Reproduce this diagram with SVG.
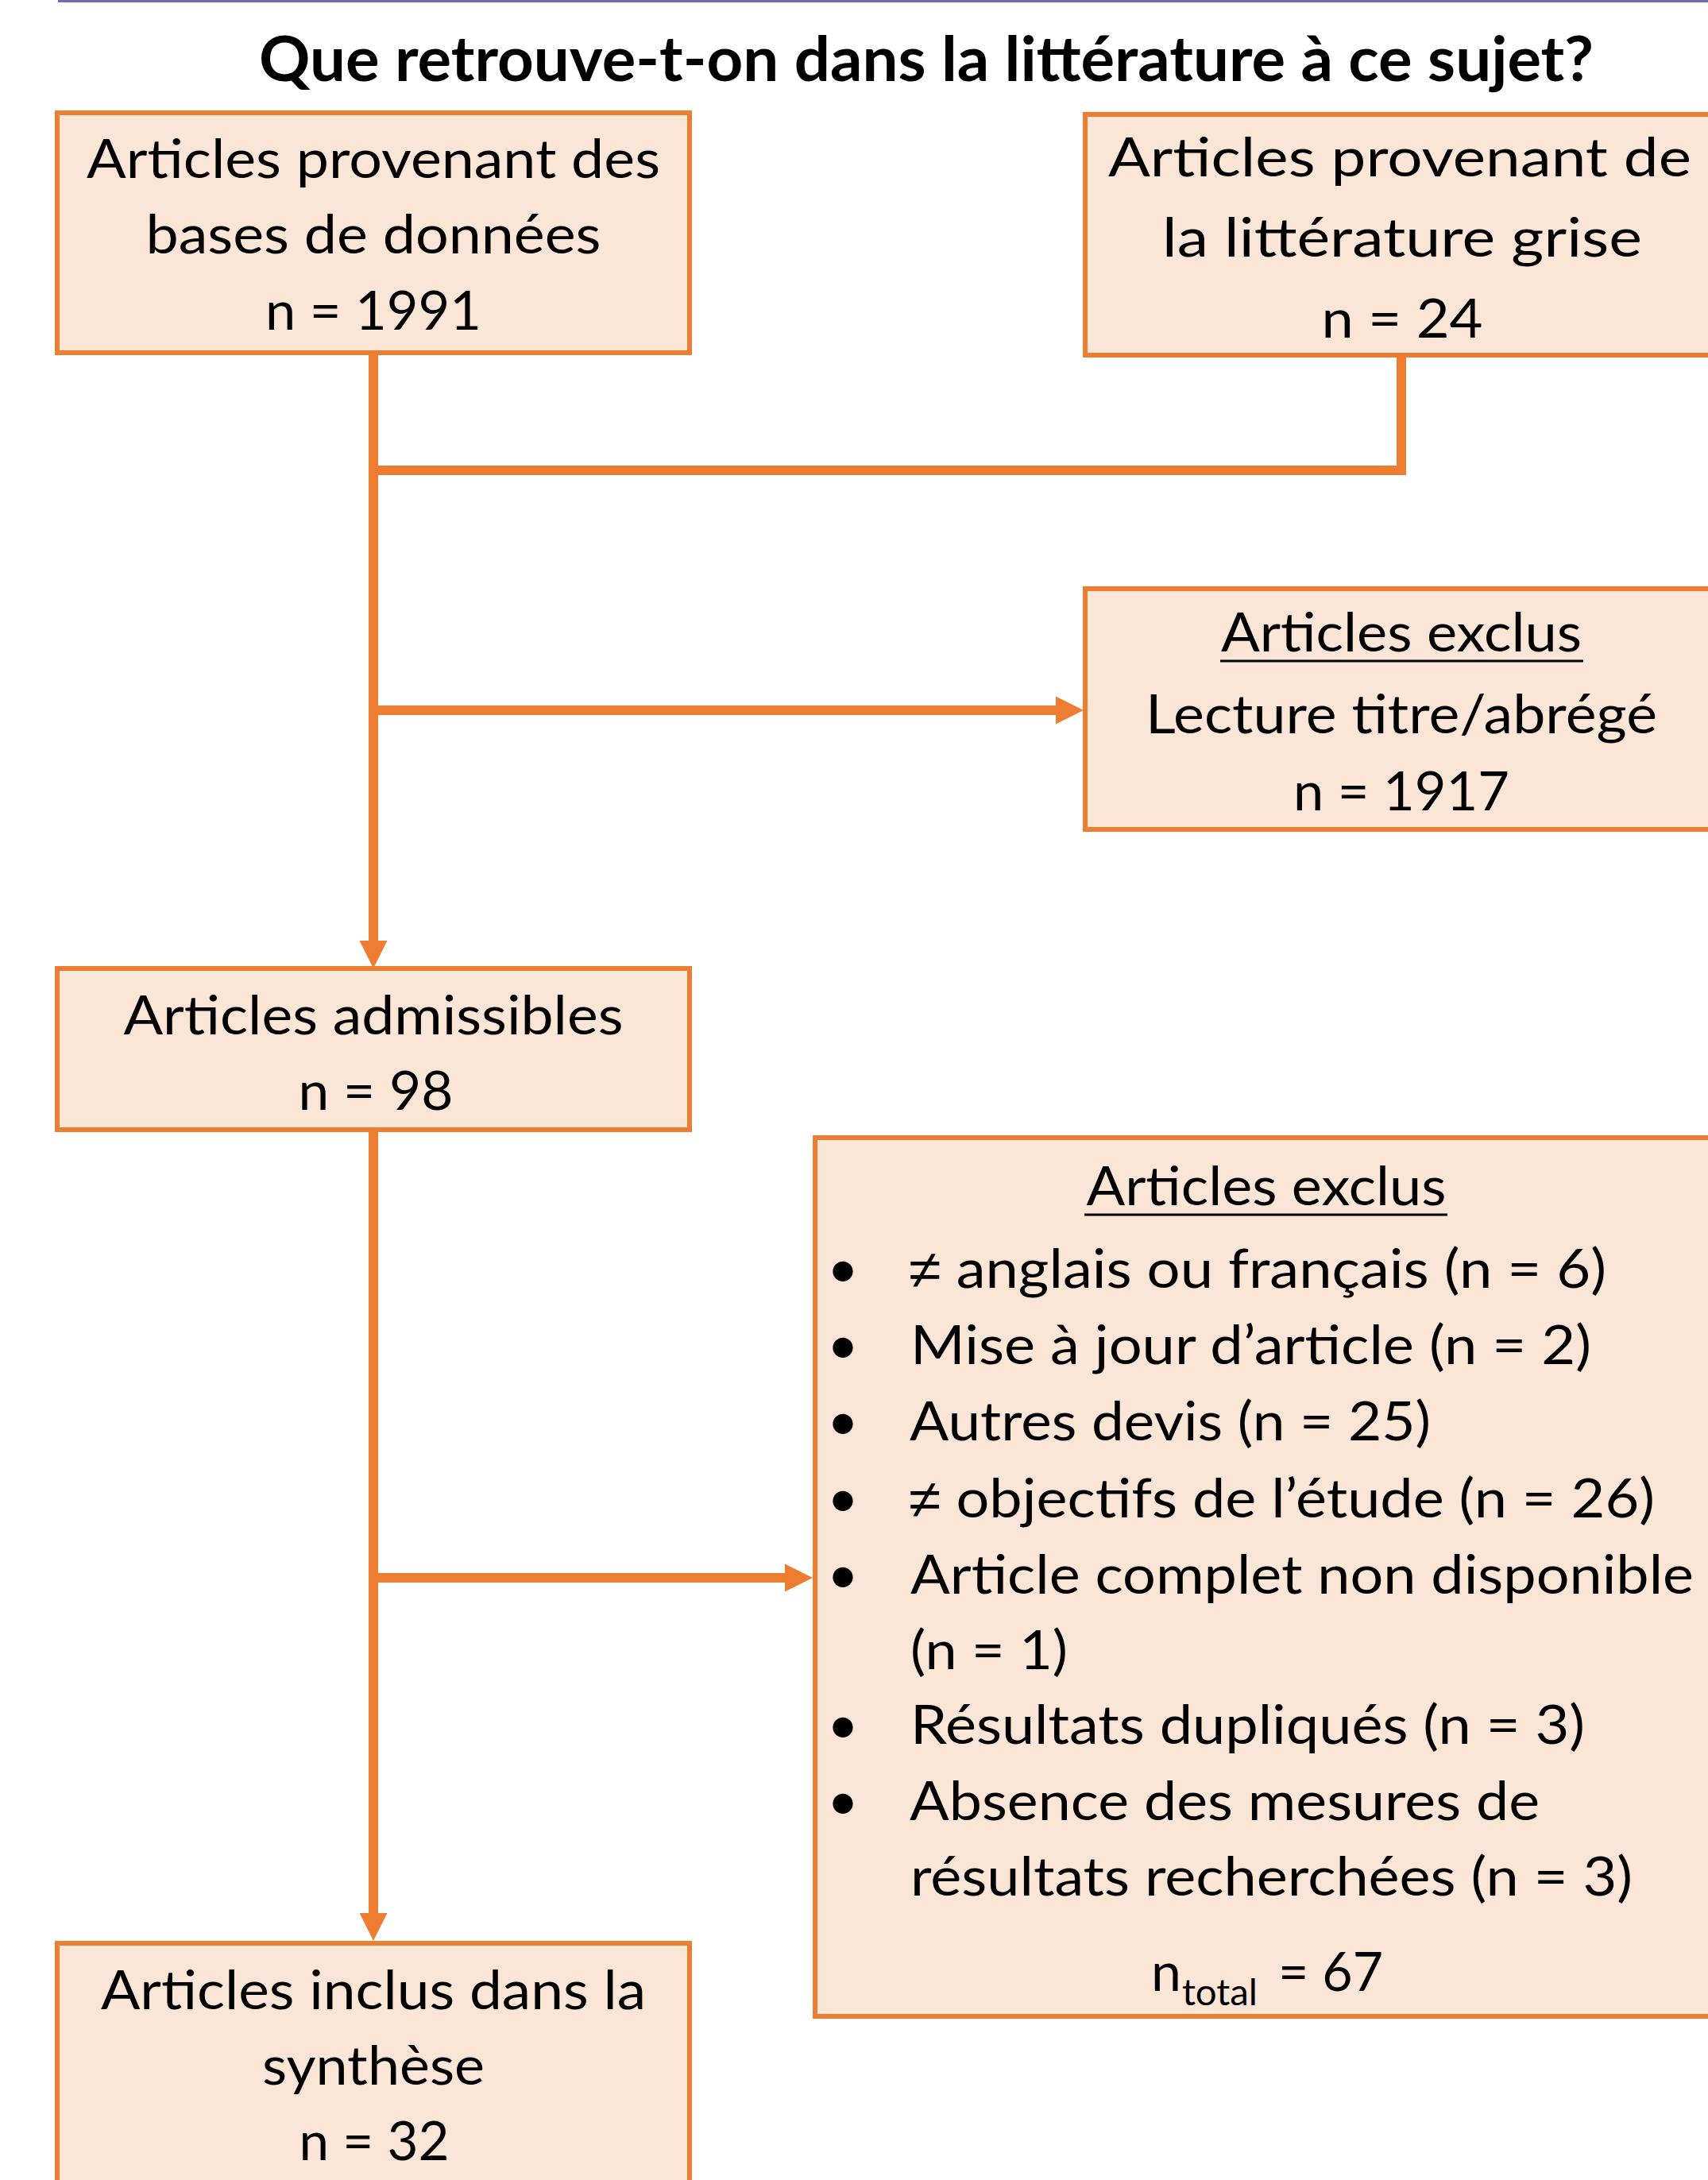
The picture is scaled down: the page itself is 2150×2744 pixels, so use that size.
<svg xmlns="http://www.w3.org/2000/svg" width="2150" height="2744" viewBox="0 0 2150 2744">
<style>
.box{fill:#fbe5d6;stroke:#ed7d31;stroke-width:6}
.t{font-family:Lato,"Open Sans","Liberation Sans",sans-serif;font-size:68px;fill:#000}
.c{text-anchor:middle}
.ne{font-family:"Liberation Sans","DejaVu Sans",sans-serif}
.title{font-family:Lato,"Open Sans","Liberation Sans",sans-serif;font-size:78px;font-weight:bold;fill:#000;text-anchor:middle}
.conn{fill:none;stroke:#ed7d31;stroke-width:12}
.ul{stroke:#000;stroke-width:3}
</style>
<defs>
<marker id="arr" markerUnits="userSpaceOnUse" markerWidth="36" markerHeight="36" refX="0" refY="17.5" orient="auto" viewBox="0 0 36 35">
<path d="M0,0 L35,17.5 L0,35 Z" fill="#ed7d31"/>
</marker>
</defs>
<rect width="2150" height="2744" fill="#fff"/>
<line x1="73" y1="1.5" x2="2150" y2="1.5" stroke="#6c6cb8" stroke-width="3"/>
<text class="title" x="1166" y="102" textLength="1680" lengthAdjust="spacingAndGlyphs">Que retrouve-t-on dans la littérature à ce sujet?</text>

<g id="connectors">
<path class="conn" d="M470 444 V1184" marker-end="url(#arr)"/>
<path class="conn" d="M1764 447 V592 H464"/>
<path class="conn" d="M470 894 H1329" marker-end="url(#arr)"/>
<path class="conn" d="M470 1422 V2408" marker-end="url(#arr)"/>
<path class="conn" d="M470 1986 H988" marker-end="url(#arr)"/>
</g>

<g id="box-bases">
<rect class="box" x="72" y="142" width="796" height="302"/>
<text class="t c" x="470" y="224" textLength="722" lengthAdjust="spacingAndGlyphs">Articles provenant des</text>
<text class="t c" x="470" y="319" textLength="573" lengthAdjust="spacingAndGlyphs">bases de données</text>
<text class="t c" x="470" y="415" textLength="272" lengthAdjust="spacingAndGlyphs">n = 1991</text>
</g>

<g id="box-grise">
<rect class="box" x="1366" y="144" width="800" height="303"/>
<text class="t c" x="1762" y="222" textLength="734" lengthAdjust="spacingAndGlyphs">Articles provenant de</text>
<text class="t c" x="1765" y="323" textLength="604" lengthAdjust="spacingAndGlyphs">la littérature grise</text>
<text class="t c" x="1765" y="425" textLength="203" lengthAdjust="spacingAndGlyphs">n = 24</text>
</g>

<g id="box-exclus1">
<rect class="box" x="1366" y="741" width="800" height="303"/>
<text class="t c" x="1764" y="820" textLength="454" lengthAdjust="spacingAndGlyphs">Articles exclus</text>
<line class="ul" x1="1536" y1="832" x2="1993" y2="832"/>
<text class="t c" x="1764" y="923" textLength="644" lengthAdjust="spacingAndGlyphs">Lecture titre/abrégé</text>
<text class="t c" x="1764" y="1020" textLength="272" lengthAdjust="spacingAndGlyphs">n = 1917</text>
</g>

<g id="box-admissibles">
<rect class="box" x="72" y="1219" width="796" height="203"/>
<text class="t c" x="470" y="1302" textLength="629" lengthAdjust="spacingAndGlyphs">Articles admissibles</text>
<text class="t c" x="473" y="1397" textLength="195" lengthAdjust="spacingAndGlyphs">n = 98</text>
</g>

<g id="box-exclus2">
<rect class="box" x="1026" y="1432" width="1140" height="1106"/>
<text class="t c" x="1594" y="1517" textLength="453" lengthAdjust="spacingAndGlyphs">Articles exclus</text>
<line class="ul" x1="1365" y1="1529" x2="1822" y2="1529"/>
<g class="t c">
<text x="1061" y="1621">•</text>
<text x="1061" y="1717">•</text>
<text x="1061" y="1813">•</text>
<text x="1061" y="1910">•</text>
<text x="1061" y="2006">•</text>
<text x="1061" y="2195">•</text>
<text x="1061" y="2291">•</text>
</g>
<text class="t" x="1144" y="1621" textLength="878" lengthAdjust="spacingAndGlyphs"><tspan class="ne">≠</tspan> anglais ou français (n = 6)</text>
<text class="t" x="1146" y="1717" textLength="857" lengthAdjust="spacingAndGlyphs">Mise à jour d’article (n = 2)</text>
<text class="t" x="1145" y="1813" textLength="656" lengthAdjust="spacingAndGlyphs">Autres devis (n = 25)</text>
<text class="t" x="1144" y="1910" textLength="939" lengthAdjust="spacingAndGlyphs"><tspan class="ne">≠</tspan> objectifs de l’étude (n = 26)</text>
<text class="t" x="1146" y="2006" textLength="986" lengthAdjust="spacingAndGlyphs">Article complet non disponible</text>
<text class="t" x="1146" y="2101" textLength="198" lengthAdjust="spacingAndGlyphs">(n = 1)</text>
<text class="t" x="1146" y="2195" textLength="849" lengthAdjust="spacingAndGlyphs">Résultats dupliqués (n = 3)</text>
<text class="t" x="1145" y="2291" textLength="793" lengthAdjust="spacingAndGlyphs">Absence des mesures de</text>
<text class="t" x="1146" y="2386" textLength="909" lengthAdjust="spacingAndGlyphs">résultats recherchées (n = 3)</text>
<text class="t" x="1449" y="2506">n<tspan x="1488" y="2524" font-size="46" textLength="95" lengthAdjust="spacingAndGlyphs">total</tspan><tspan x="1609" y="2506" textLength="132" lengthAdjust="spacingAndGlyphs">= 67</tspan></text>
</g>

<g id="box-inclus">
<rect class="box" x="72" y="2446" width="796" height="400"/>
<text class="t c" x="470" y="2529" textLength="686" lengthAdjust="spacingAndGlyphs">Articles inclus dans la</text>
<text class="t c" x="470" y="2624" textLength="280" lengthAdjust="spacingAndGlyphs">synthèse</text>
<text class="t c" x="471" y="2719" textLength="189" lengthAdjust="spacingAndGlyphs">n = 32</text>
</g>
</svg>
